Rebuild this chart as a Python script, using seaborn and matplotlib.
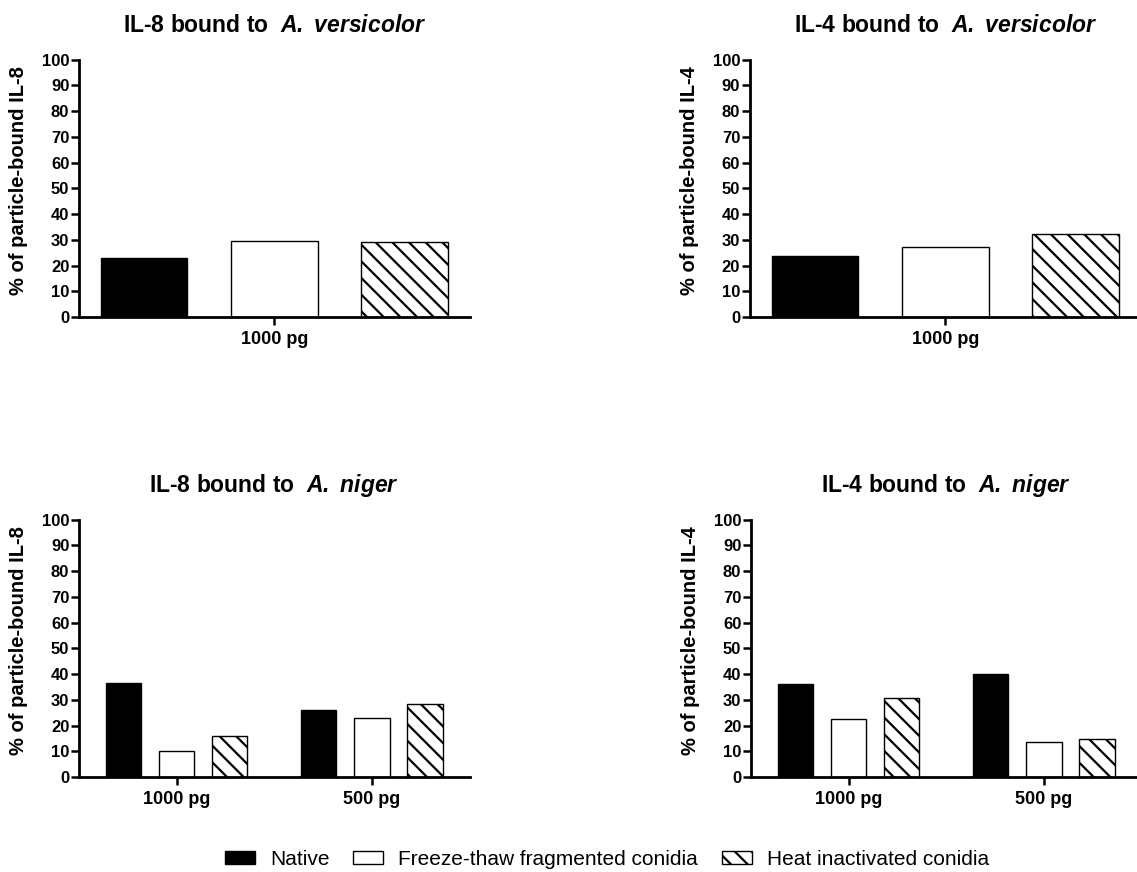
#!/usr/bin/env python3
"""Particle-bound IL-8 / IL-4 on A. versicolor and A. niger conidia."""

import matplotlib

matplotlib.use("Agg")
import matplotlib.pyplot as plt
import pandas as pd
import seaborn as sns
from matplotlib.patches import Patch

treatments = ["Native", "Freeze-thaw fragmented conidia", "Heat inactivated conidia"]

vers_doses = ["1000 pg"]
niger_doses = ["1000 pg", "500 pg"]

il8_versicolor = {"Native": [23.1], "Freeze-thaw fragmented conidia": [29.7],
                  "Heat inactivated conidia": [29.1]}
il4_versicolor = {"Native": [23.8], "Freeze-thaw fragmented conidia": [27.3],
                  "Heat inactivated conidia": [32.4]}
il8_niger = {"Native": [36.7, 26.0], "Freeze-thaw fragmented conidia": [10.2, 22.9],
             "Heat inactivated conidia": [15.8, 28.3]}
il4_niger = {"Native": [36.3, 39.9], "Freeze-thaw fragmented conidia": [22.4, 13.6],
             "Heat inactivated conidia": [30.8, 14.9]}

y_ticks = list(range(0, 101, 10))

sns.set_theme(style="ticks")
plt.rcParams["font.family"] = ["Liberation Sans", "DejaVu Sans"]
plt.rcParams["mathtext.fontset"] = "custom"
plt.rcParams["mathtext.bfit"] = "Liberation Sans:italic:bold"
plt.rcParams["mathtext.rm"] = "Liberation Sans:bold"
plt.rcParams["hatch.linewidth"] = 1.6
for key in ("text.color", "axes.labelcolor", "xtick.color", "ytick.color", "axes.edgecolor"):
    plt.rcParams[key] = "black"

HATCH = "\\\\"


def to_long(doses, values):
    rows = []
    for t in treatments:
        for d, v in zip(doses, values[t]):
            rows.append({"dose": d, "treatment": t, "value": v})
    return pd.DataFrame(rows)


def draw_panel(ax, doses, values, cytokine, species):
    df = to_long(doses, values)
    width = 1.0 if len(doses) == 1 else 0.816
    sns.barplot(data=df, x="dose", y="value", hue="treatment", hue_order=treatments,
                order=doses, palette=["black", "white", "white"], edgecolor="black",
                linewidth=1.0, width=width, gap=0.335, legend=False, ax=ax)
    for bar in ax.containers[2]:
        bar.set_hatch(HATCH)
    ax.set_xlim(-0.5, len(doses) - 0.5)
    ax.set_ylim(0, 100)
    ax.set_yticks(y_ticks)
    ax.set_xlabel("")
    ax.set_ylabel(f"% of particle-bound {cytokine}", fontsize=14.5, fontweight="bold")
    ax.yaxis.set_label_coords(-0.13, 0.53)
    sp = species.replace(" ", r"\;")
    ax.set_title(f"{cytokine} bound to " + r"$\mathbfit{\;" + sp + "}$",
                 fontsize=16.5, fontweight="bold", pad=20)
    for lab in ax.get_yticklabels():
        lab.set_fontweight("bold")
        lab.set_fontsize(12)
    for lab in ax.get_xticklabels():
        lab.set_fontweight("bold")
        lab.set_fontsize(13)
    ax.tick_params(axis="y", length=6, width=1.8, color="black", pad=1)
    ax.tick_params(axis="x", length=6, width=1.8, color="black", pad=4)
    for side in ("left", "bottom"):
        ax.spines[side].set_linewidth(2)
        ax.spines[side].set_color("black")
    sns.despine(ax=ax)


fig = plt.figure(figsize=(11.37, 8.72), dpi=100)
w, h = 0.3435, 0.295
ax1 = fig.add_axes([0.0695, 0.6365, w, h])
ax2 = fig.add_axes([0.6596, 0.6365, w, h])
ax3 = fig.add_axes([0.0695, 0.109, w, h])
ax4 = fig.add_axes([0.6605, 0.109, w, h])

draw_panel(ax1, vers_doses, il8_versicolor, "IL-8", "A. versicolor")
draw_panel(ax2, vers_doses, il4_versicolor, "IL-4", "A. versicolor")
draw_panel(ax3, niger_doses, il8_niger, "IL-8", "A. niger")
draw_panel(ax4, niger_doses, il4_niger, "IL-4", "A. niger")

handles = [
    Patch(facecolor="black", edgecolor="black", label=treatments[0]),
    Patch(facecolor="white", edgecolor="black", label=treatments[1]),
    Patch(facecolor="white", edgecolor="black", hatch=HATCH, label=treatments[2]),
]
fig.legend(handles=handles, loc="center left", bbox_to_anchor=(225 / 1137, 1 - 859 / 872),
           ncol=3, frameon=False, fontsize=15, handlelength=1.44, handleheight=0.58,
           handletextpad=0.72, columnspacing=1.15, borderpad=0, borderaxespad=0)

fig.savefig("out.png", dpi=100)
